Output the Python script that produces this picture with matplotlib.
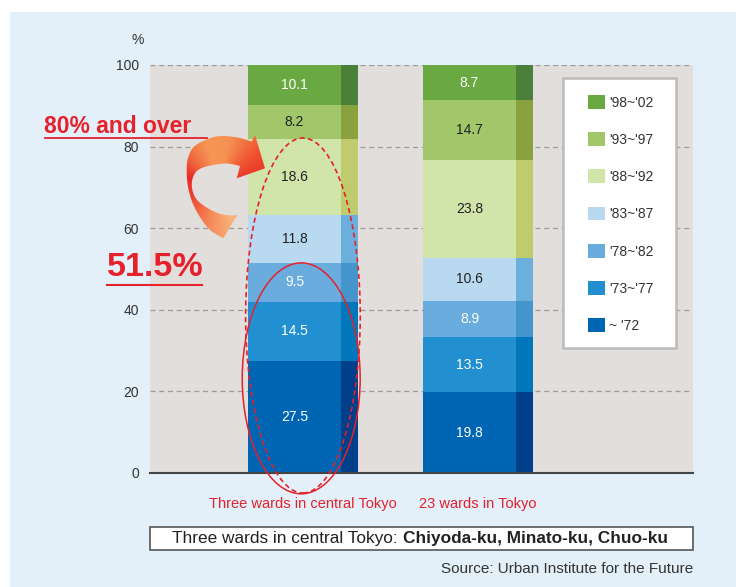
import numpy as np
import matplotlib
matplotlib.use('Agg')
import matplotlib.pyplot as plt
from matplotlib.patches import Rectangle, Ellipse, Polygon
from matplotlib.lines import Line2D

plt.rcParams['font.family'] = ['Liberation Sans', 'DejaVu Sans']

# ---------------- data ----------------
categories = ['Three wards in central Tokyo', '23 wards in Tokyo']
periods = ["~ '72", "'73~'77", "'78~'82", "'83~'87", "'88~'92", "'93~'97", "'98~'02"]
three_wards = [27.5, 14.5, 9.5, 11.8, 18.6, 8.2, 10.1]
wards_23 = [19.8, 13.5, 8.9, 10.6, 23.8, 14.7, 8.7]
yticks = [0, 20, 40, 60, 80, 100]

# ---------------- style ----------------
main_colors = ['#0066B3', '#2290D0', '#6AACDE', '#B8D9F0', '#D1E4AA', '#A1C76A', '#6AA842']
side_colors = ['#003F8A', '#0077BB', '#4495CC', '#6BB0DC', '#C0CB6E', '#8AA23E', '#4A803A']
label_colors = ['white', 'white', 'white', '#222222', '#222222', '#222222', 'white']
RED = '#E5212C'
W, H = 738, 587

fig = plt.figure(figsize=(W / 100, H / 100), dpi=100)
fig.patch.set_facecolor('white')
fig.add_artist(Rectangle((10 / W, 0), 726 / W, (H - 12) / H, transform=fig.transFigure,
                         facecolor='#E3F0FA', edgecolor='none', zorder=-10))

ax = fig.add_axes([150 / W, (H - 473) / H, 543 / W, 408 / H])
ax.set_facecolor('#E2DEDC')

x = np.arange(len(categories))
data = np.array([three_wards, wards_23])  # shape (2, 7)
bottoms = np.zeros(len(categories))
main_w, side_w, left_off = 0.531, 0.097, 0.314
main_containers = []
for i, p in enumerate(periods):
    vals = data[:, i]
    c = ax.bar(x - left_off, vals, width=main_w, bottom=bottoms, align='edge',
               color=main_colors[i], linewidth=0, label=p, zorder=2)
    ax.bar(x - left_off + main_w, vals, width=side_w, bottom=bottoms, align='edge',
           color=side_colors[i], linewidth=0, zorder=2)
    ax.bar_label(c, labels=[f'{v:.1f}' for v in vals], label_type='center',
                 fontsize=10, color=label_colors[i])
    main_containers.append(c)
    bottoms = bottoms + vals

ax.set_xlim(-0.874, 2.229)
ax.set_ylim(0, 100)
ax.set_yticks(yticks)
ax.set_yticklabels([str(v) for v in yticks])
ax.set_xticks(x)
ax.set_xticklabels(categories)
ax.tick_params(axis='y', length=0, pad=8, labelsize=10, labelcolor='#333333')
ax.tick_params(axis='x', length=0, pad=17, labelsize=10.5, labelcolor=RED)
for s in ['top', 'right', 'left']:
    ax.spines[s].set_visible(False)
ax.spines['bottom'].set_color('#444444')
ax.spines['bottom'].set_linewidth(1.5)
ax.set_axisbelow(True)
ax.yaxis.grid(True, linestyle=(0, (4, 3)), color='#9A9A9A', linewidth=0.9)

# ellipses (annotation)
ax.add_patch(Ellipse((-0.01, 23.2), 0.674, 56.6, fill=False, edgecolor=RED,
                     linewidth=1.1, clip_on=False, zorder=5))
ax.add_patch(Ellipse((0.0, 38.6), 0.655, 87.0, fill=False, edgecolor=RED,
                     linewidth=1.2, linestyle=(0, (3, 2)), clip_on=False, zorder=5))

# percent sign
fig.text(138 / W, 1 - 40 / H, '%', ha='center', va='center', fontsize=10, color='#333333')

# legend box + legend
fig.add_artist(Rectangle((563 / W, 1 - 348 / H), 113 / W, 270 / H, transform=fig.transFigure,
                         facecolor='white', edgecolor='#BBBBBB', linewidth=1.8, zorder=2))
leg = fig.legend(main_containers[::-1], periods[::-1], loc='upper left',
                 bbox_to_anchor=(588 / W, 1 - 95 / H), frameon=False, borderpad=0,
                 borderaxespad=0, handlelength=1.22, handleheight=1.15, handletextpad=0.3,
                 labelspacing=1.63, fontsize=10, labelcolor='#333333')
leg.set_zorder(6)

# ---------------- curved arrow (annotation, screen-pixel overlay) ----------------
ov = fig.add_axes([0, 0, 1, 1], zorder=3)
ov.set_xlim(0, W)
ov.set_ylim(H, 0)
ov.axis('off')
ov.patch.set_alpha(0)


def catmull(pts, n=12):
    pts = np.asarray(pts, float)
    P = np.vstack([pts[0], pts, pts[-1]])
    out = []
    for k in range(1, len(P) - 2):
        p0, p1, p2, p3 = P[k - 1], P[k], P[k + 1], P[k + 2]
        for t in np.linspace(0, 1, n, endpoint=False):
            t2, t3 = t * t, t * t * t
            out.append(0.5 * ((2 * p1) + (-p0 + p2) * t + (2 * p0 - 5 * p1 + 4 * p2 - p3) * t2
                              + (-p0 + 3 * p1 - 3 * p2 + p3) * t3))
    out.append(P[-2])
    return np.array(out)


outer = catmull([(223.3, 238.3), (208.3, 228.3), (195, 208.3), (188.3, 188.3), (186.7, 168),
                 (189, 155), (196, 145), (215, 136.7), (235, 137), (251.7, 141.5)])
inner = catmull([(240, 166), (225, 163.5), (203, 167.5), (194, 175), (192, 188),
                 (198.5, 201.5), (218.3, 213.3), (236.7, 215.7)])
head = np.array([(255, 135), (265, 168.3), (236.7, 178.3)])
arrow_pts = np.vstack([outer, head, inner])
arrow_poly = Polygon(arrow_pts, closed=True, facecolor='none', edgecolor='none')
ov.add_patch(arrow_poly)

gx0, gx1, gy0, gy1 = 180, 272, 128, 245
gx, gy = np.meshgrid(np.arange(gx0, gx1 + 1), np.arange(gy0, gy1 + 1))
ang = np.degrees(np.arctan2(gy - 185.0, gx - 218.0)) % 360
ang = np.where(ang < 60, ang + 360, ang)
stops_a = [70, 110, 160, 195, 225, 255, 285, 320, 350, 420]
stops_c = np.array([(249, 178, 122), (244, 128, 80), (234, 62, 46), (232, 42, 40),
                    (240, 105, 62), (246, 150, 86), (246, 145, 82), (239, 82, 48),
                    (234, 48, 40), (234, 48, 40)]) / 255.0
img = np.dstack([np.interp(ang, stops_a, stops_c[:, j]) for j in range(3)])
im = ov.imshow(img, extent=(gx0, gx1, gy1, gy0), origin='upper', interpolation='bilinear',
               aspect='auto', zorder=3)
im.set_clip_path(arrow_poly)
ov.set_xlim(0, W)
ov.set_ylim(H, 0)

# red annotation texts
fig.text(44 / W, 1 - 133 / H, '80% and over', ha='left', va='baseline', fontsize=16.5,
         fontweight='bold', color=RED, zorder=4)
fig.add_artist(Line2D([45 / W, 207 / W], [1 - 137.5 / H] * 2, transform=fig.transFigure,
                      color=RED, linewidth=1.3, zorder=4))
fig.text(107 / W, 1 - 276 / H, '51.5%', ha='left', va='baseline', fontsize=24.5,
         fontweight='bold', color=RED, zorder=4)
fig.add_artist(Line2D([107 / W, 202 / W], [1 - 284.5 / H] * 2, transform=fig.transFigure,
                      color=RED, linewidth=1.5, zorder=4))

# note box
fig.add_artist(Rectangle((150 / W, 1 - 550 / H), 543 / W, 23 / H, transform=fig.transFigure,
                         facecolor='white', edgecolor='#555555', linewidth=1.2, zorder=2))
t1 = fig.text(0, 1 - 538.5 / H, 'Three wards in central Tokyo:', ha='left', va='center',
              fontsize=12.4, color='#222222', zorder=4)
t2 = fig.text(0, 1 - 538.5 / H, 'Chiyoda-ku, Minato-ku, Chuo-ku', ha='left', va='center',
              fontsize=12.4, fontweight='bold', color='#222222', zorder=4)
fig.canvas.draw()
r = fig.canvas.get_renderer()
w1 = t1.get_window_extent(r).width
w2 = t2.get_window_extent(r).width
gap = 4.5
start = 420 - (w1 + gap + w2) / 2
t1.set_x(start / W)
t2.set_x((start + w1 + gap) / W)

fig.text(693 / W, 1 - 569 / H, 'Source: Urban Institute for the Future', ha='right',
         va='center', fontsize=11, color='#333333')

fig.savefig('out.png', dpi=100)
